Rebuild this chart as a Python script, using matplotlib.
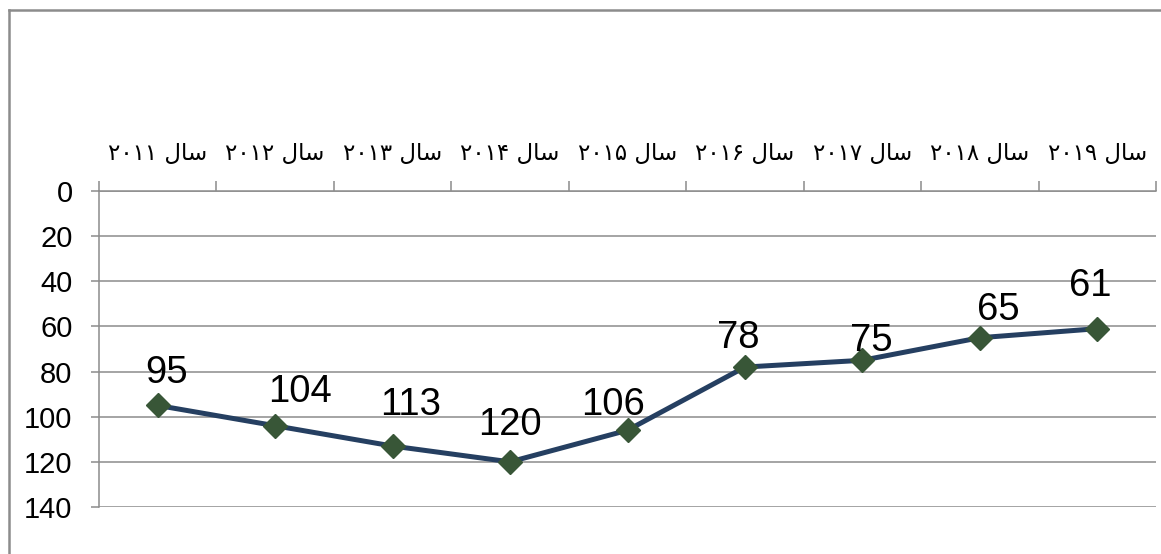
import matplotlib
matplotlib.use("Agg")
import matplotlib.pyplot as plt
from matplotlib.lines import Line2D
from matplotlib.ticker import FixedLocator

# ---- data ----
categories = ["سال ۲۰۱۱", "سال ۲۰۱۲", "سال ۲۰۱۳", "سال ۲۰۱۴", "سال ۲۰۱۵",
              "سال ۲۰۱۶", "سال ۲۰۱۷", "سال ۲۰۱۸", "سال ۲۰۱۹"]
values = [95, 104, 113, 120, 106, 78, 75, 65, 61]
y_ticks = [0, 20, 40, 60, 80, 100, 120, 140]

# label offsets in pixels (layout only)
label_dx = [9, 25, 18, 0, -14, -7, 9, 18, -7]
label_dy = [22, 24, 31, 27, 15, 19, 9, 18, 33]

# ---- minimal Arabic-script shaping (matplotlib has no bidi/shaping) ----
FORMS = {  # isolated, final, initial, medial
    "س": ("\uFEB1", "\uFEB2", "\uFEB3", "\uFEB4"),
    "ا": ("\uFE8D", "\uFE8E", None, None),
    "ل": ("\uFEDD", "\uFEDE", "\uFEDF", "\uFEE0"),
}

def shape_word(word):
    out = []
    n = len(word)
    for i, ch in enumerate(word):
        f = FORMS.get(ch)
        if f is None:
            out.append(ch)
            continue
        prev = word[i - 1] if i > 0 else None
        joins_prev = prev in FORMS and FORMS[prev][2] is not None
        nxt = word[i + 1] if i < n - 1 else None
        joins_next = f[2] is not None and nxt in FORMS
        if joins_prev and joins_next:
            out.append(f[3])
        elif joins_prev:
            out.append(f[1])
        elif joins_next:
            out.append(f[2])
        else:
            out.append(f[0])
    return "".join(reversed(out))

def visual(label):
    parts = label.split(" ")
    vis = []
    for p in parts:
        if any(c in FORMS for c in p):
            vis.append(shape_word(p))
        else:
            vis.append(p)
    return " ".join(reversed(vis))

# ---- figure ----
W, H = 1161, 554
fig = plt.figure(figsize=(W / 100, H / 100), dpi=100)
fig.patch.set_facecolor("white")

ax = fig.add_axes([99 / W, 1 - 507 / H, (1156 - 99) / W, (507 - 191) / H])

x = list(range(len(categories)))
ax.plot(x, values, color="#253F61", lw=3.6, marker="D", markersize=12.5,
        markerfacecolor="#385637", markeredgecolor="#385637", zorder=3,
        solid_capstyle="round")

for xi, v, dx, dy in zip(x, values, label_dx, label_dy):
    ax.annotate(str(v), (xi, v), xytext=(dx, dy), textcoords="offset pixels",
                ha="center", va="baseline", fontsize=27.5,
                family=["Liberation Sans", "DejaVu Sans"], color="black", zorder=4)

ax.set_xlim(-0.5, len(categories) - 0.5)
ax.set_ylim(140, 0)
ax.set_yticks(y_ticks)
ax.yaxis.grid(True, color="#8C8C8C", lw=1.1)
ax.set_axisbelow(True)

ax.xaxis.tick_top()
ax.set_xticks(x)
ax.set_xticklabels([visual(c) for c in categories])
ax.xaxis.set_minor_locator(FixedLocator([i - 0.5 for i in range(len(categories) + 1)]))
ax.tick_params(axis="x", which="major", length=0, pad=19, labelsize=16.5)
ax.tick_params(axis="x", which="minor", length=7, width=1.1, color="#8C8C8C", direction="out")
ax.tick_params(axis="y", length=6, width=1.1, color="#8C8C8C", pad=13, labelsize=21)
for lab in ax.get_xticklabels():
    lab.set_family(["DejaVu Sans"])
for lab in ax.get_yticklabels():
    lab.set_family(["Liberation Sans", "DejaVu Sans"])

for s in ["right", "bottom"]:
    ax.spines[s].set_visible(False)
for s in ["left", "top"]:
    ax.spines[s].set_color("#8C8C8C")
    ax.spines[s].set_linewidth(1.1)

# outer chart border (left and top visible)
fig.add_artist(Line2D([9 / W, 9 / W], [1 - 10 / H, 0], transform=fig.transFigure,
                      color="#8C8C8C", lw=1.8))
fig.add_artist(Line2D([9 / W, 1], [1 - 10 / H, 1 - 10 / H], transform=fig.transFigure,
                      color="#8C8C8C", lw=1.8))

fig.savefig("out.png", dpi=100, facecolor="white")
